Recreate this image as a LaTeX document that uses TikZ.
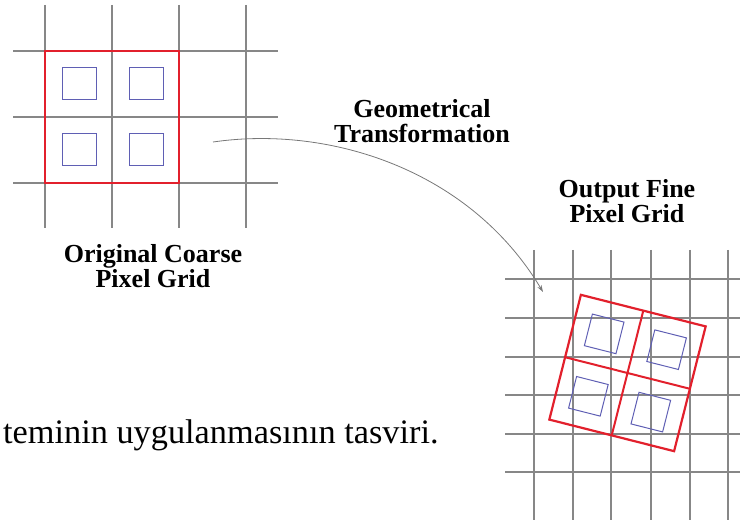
\documentclass[tikz,border=0pt]{standalone}
\usepackage{fontspec}
\setmainfont{Liberation Serif}
\usetikzlibrary{arrows.meta}
\definecolor{gridgray}{RGB}{135,135,135}
\definecolor{pixred}{RGB}{226,32,44}
\definecolor{pixblue}{RGB}{95,95,180}
\definecolor{arrowgray}{RGB}{120,120,120}
\tikzset{
  gridline/.style={draw=gridgray, line width=1.2pt},
  redbox/.style={draw=pixred, line width=2.2pt, line join=miter},
  redin/.style={draw=pixred, line width=2pt},
  bluebox/.style={draw=pixblue, line width=1pt},
  lbl/.style={font=\fontsize{26}{25}\selectfont\bfseries, align=center, inner sep=0pt},
  caption/.style={font=\fontsize{34.3}{40}\selectfont, inner sep=0pt, anchor=base west},
  transarrow/.style={draw=arrowgray, line width=0.8pt, -{Stealth[length=7pt,width=4.5pt]}}
}
\begin{document}
\begin{tikzpicture}[x=1pt,y=-1pt]
\useasboundingbox (0,0) rectangle (740,524);
% ---------- left coarse grid ----------
\foreach \x in {45,112,179,246} \draw[gridline] (\x,5) -- (\x,228);
\foreach \y in {51,117,183} \draw[gridline] (13,\y) -- (278,\y);
\draw[redbox] (45,51) rectangle (179,183);
\foreach \cx/\cy in {79/84,146/84,79/150,146/150}
  \draw[bluebox] (\cx-17,\cy-16) rectangle (\cx+17,\cy+16);
\node[lbl] (orig) at (153,266) {Original Coarse\\Pixel Grid};
% ---------- right fine grid ----------
\foreach \x in {534,573,611,651,690,728} \draw[gridline] (\x,250) -- (\x,520);
\foreach \y in {279,318,357,395,434,472} \draw[gridline] (505,\y) -- (740,\y);
\begin{scope}[shift={(627.5,373)}, rotate=-14.2]
  \draw[redbox] (-64.35,-64.35) rectangle (64.35,64.35);
  \draw[redin] (0,-64.35) -- (0,64.35) (-64.35,0) -- (64.35,0);
  \foreach \cx/\cy in {-32.2/-32.2,32.2/-32.2,-32.2/32.2,32.2/32.2}
    \draw[bluebox] (\cx-16.3,\cy-16.3) rectangle (\cx+16.3,\cy+16.3);
\end{scope}
\node[lbl] (outp) at (627,201) {Output Fine\\Pixel Grid};
% ---------- transformation arrow ----------
\node[lbl] (geom) at (422,121) {Geometrical\\Transformation};
\coordinate (arrowstart) at (213,142);
\coordinate (arrowend) at (543,292);
\draw[transarrow] (arrowstart) .. controls (330,125) and (470,170) .. (arrowend);
% ---------- caption fragment ----------
\node[caption] (capt) at (3,443) {teminin uygulanmasının tasviri.};
\end{tikzpicture}
\end{document}
